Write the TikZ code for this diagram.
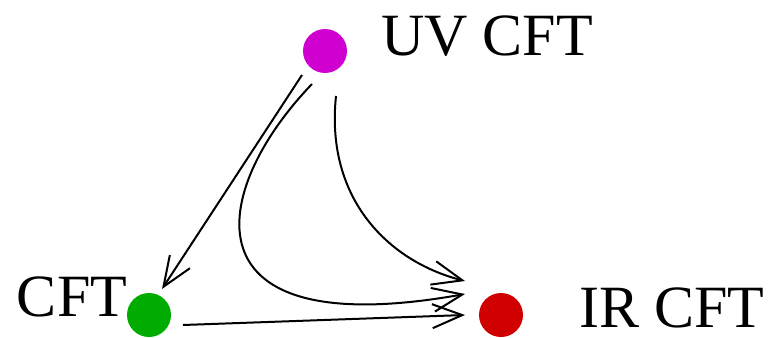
\documentclass[tikz,border=0pt]{standalone}
\usepackage{fontspec}
\setmainfont{Liberation Serif}
\usetikzlibrary{arrows.meta}
\definecolor{uvcol}{RGB}{208,0,208}
\definecolor{cftcol}{RGB}{0,172,0}
\definecolor{ircol}{RGB}{208,0,0}
\begin{document}
\begin{tikzpicture}[x=1pt,y=-1pt,
  dot/.style={circle,minimum size=44pt,inner sep=0pt},
  lab/.style={font=\fontsize{60}{62}\selectfont,inner sep=0pt},
  flow/.style={line width=2pt,-{Straight Barb[length=30pt,width=24pt,line width=2pt]}}]
\useasboundingbox (0,0) rectangle (770,337);
\node[dot,fill=uvcol] (uv) at (325,51) {};
\node[dot,fill=cftcol] (cft) at (149,315) {};
\node[dot,fill=ircol] (ir) at (501,315) {};
\node[lab] (uvl) at (487,36) {UV CFT};
\node[lab] (cftl) at (72,297) {CFT};
\node[lab] (irl) at (672,308) {IR CFT};
\coordinate (a1s) at (302,75);
\coordinate (a1e) at (162,289);
\coordinate (a2s) at (312,84);
\coordinate (a2e) at (465,294);
\coordinate (a3s) at (336,96);
\coordinate (a3e) at (465,281);
\coordinate (a4s) at (183,325);
\coordinate (a4e) at (465,315);
\draw[flow] (a1s) -- (a1e);
\draw[flow] (a2s) .. controls (210,190) and (180,345) .. (a2e);
\draw[flow] (a3s) .. controls (325,200) and (390,262) .. (a3e);
\draw[flow] (a4s) -- (a4e);
\end{tikzpicture}
\end{document}
